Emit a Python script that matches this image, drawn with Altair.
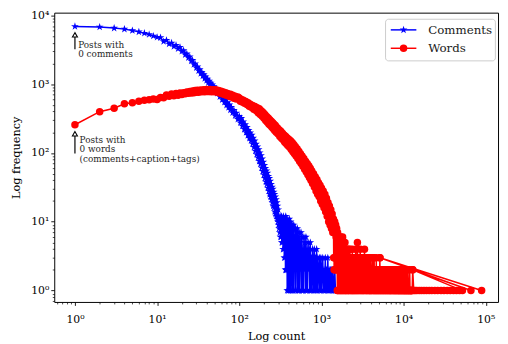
import altair as alt
import pandas as pd

FONT = "DejaVu Serif"
TITLE = "Log-Log plot over the frequency of text per post"
X_TITLE = "Log count"
Y_TITLE = "Log frequency"
SERIES = ["Comments", "Words"]
COLORS = ["#0000ff", "#ff0000"]
STAR = ("M0,-1L0.2245,-0.309L0.9511,-0.309L0.3633,0.118L0.5878,0.809L0,0.382"
        "L-0.5878,0.809L-0.3633,0.118L-0.9511,-0.309L-0.2245,-0.309Z")
SHAPES = [STAR, "circle"]
SIZES = [68, 58]

# ---- Comments: (number of comments + 1, number of posts), in plotted order ----
comments_head = [
    (1, 6900), (2, 6750), (3, 6520), (4, 6300), (5, 6000), (6, 5750), (7, 5500), (8, 5250), (9, 5000), (10, 4800),
    (11, 4740), (12, 4170), (13, 4340), (14, 3830), (15, 3970), (16, 3520), (17, 3680), (18, 3270), (19, 3430), (20, 3000),
    (21, 3070), (22, 2680), (23, 2760), (24, 2420), (25, 2500), (26, 2170), (27, 2220), (28, 1930), (29, 1980), (30, 1730),
    (31, 1790), (32, 1560), (33, 1630), (34, 1430), (35, 1490), (36, 1310), (37, 1380), (38, 1210), (39, 1280), (40, 1130),
    (41, 1190), (42, 1050), (43, 1110), (44, 985), (45, 1040), (46, 920), (47, 980), (48, 865), (49, 925), (50, 815),
    (52, 855), (54, 735), (56, 770), (58, 655), (60, 700), (62, 595), (64, 640), (66, 545), (68, 590), (70, 495),
    (72, 540), (74, 458), (76, 500), (78, 422), (80, 462), (83, 385), (86, 418), (89, 348), (92, 380), (96, 308),
    (100, 340), (103, 275), (106, 318), (109, 246), (112, 285), (115, 220), (118, 258), (121, 198), (124, 236), (127, 180),
    (130, 214), (133, 163), (136, 197), (139, 150), (142, 182), (145, 136), (148, 165), (151, 121), (154, 150), (157, 107),
    (160, 135), (163, 95), (166, 123), (169, 85), (172, 112), (175, 76), (178, 101), (181, 69), (184, 92), (187, 61),
    (190, 82), (193, 54), (196, 74), (199, 48), (202, 66), (205, 43), (208, 60), (211, 38), (214, 55), (217, 35),
    (220, 51), (223, 31), (226, 46), (229, 28), (232, 43), (235, 25), (238, 39), (241, 23), (244, 35), (247, 21),
    (250, 32), (253, 19), (256, 30), (259, 17), (262, 27), (265, 16), (268, 25), (271, 14), (274, 23), (277, 13),
    (280, 21), (283, 12), (286, 19), (289, 11), (292, 17), (295, 10), (298, 15), (300, 9),
]
comments_tail = [
    (302, 12), (305, 8), (308, 11), (311, 7), (314, 12), (317, 6), (320, 10), (323, 6), (326, 12), (329, 5),
    (332, 11), (335, 5), (338, 9), (341, 4), (344, 12), (347, 4), (350, 10), (353, 3), (356, 11), (359, 3),
    (362, 8), (365, 2), (368, 12), (371, 2), (374, 9), (377, 2), (380, 11), (383, 1), (386, 7), (389, 2),
    (392, 10), (395, 1), (398, 8), (402, 1), (406, 11), (410, 2), (414, 9), (418, 1), (422, 10), (426, 1),
    (430, 7), (435, 2), (440, 9), (445, 1), (450, 8), (455, 1), (460, 9), (466, 3), (472, 6), (478, 1),
    (484, 8), (490, 1), (496, 7), (502, 2), (508, 8), (515, 1), (522, 6), (529, 1), (536, 7), (543, 1),
    (550, 5), (557, 2), (564, 7), (572, 1), (580, 6), (588, 1), (596, 4), (604, 1), (612, 6), (621, 2),
    (630, 5), (639, 1), (648, 6), (658, 1), (668, 4), (678, 1), (688, 5), (699, 2), (710, 4), (721, 1),
    (732, 5), (744, 1), (756, 3), (768, 1), (780, 4), (793, 2), (806, 1), (819, 4), (832, 1), (846, 3),
    (860, 1), (874, 4), (889, 1), (904, 3), (920, 2), (936, 1), (952, 3), (968, 1), (985, 3), (1002, 1),
    (1020, 2), (1038, 3), (1056, 1), (1075, 2), (1094, 1), (1114, 3), (1134, 1), (1154, 2), (1175, 1), (1196, 3),
    (1218, 1), (1240, 2), (1262, 1), (1285, 2), (1308, 1), (1332, 2), (1356, 1), (1380, 2), (1405, 1), (1430, 1),
    (1455, 2), (1480, 1), (1500, 1),
]

# ---- Words: (number of words + 1, number of posts), in plotted order ----
words_head = [
    (1, 257), (2, 398), (3, 446), (4, 518), (5, 535), (6, 566), (7, 585), (8, 592), (9, 610), (10, 600),
    (11, 640), (12, 632), (13, 695), (14, 668), (15, 718), (16, 680), (17, 728), (18, 690), (19, 745), (20, 705),
    (21, 752), (22, 722), (23, 768), (24, 735), (25, 782), (26, 742), (27, 795), (28, 752), (29, 805), (30, 760),
    (31, 812), (32, 765), (34, 820), (35, 772), (37, 828), (38, 775), (40, 832), (42, 778), (44, 832), (46, 775),
    (48, 830), (50, 772), (52, 826), (54, 765), (56, 808), (58, 742), (60, 790), (62, 725), (64, 770), (66, 705),
    (68, 748), (70, 690), (72, 730), (75, 668), (78, 710), (80, 648), (83, 690), (86, 625), (89, 668), (92, 610),
    (96, 650), (100, 630), (103, 565), (106, 598), (109, 550), (112, 585), (116, 528), (120, 560), (124, 505), (128, 535),
    (132, 478), (136, 512), (140, 462), (145, 490), (150, 432), (155, 472), (160, 415), (165, 452), (170, 385), (175, 440),
    (180, 362), (185, 410), (190, 340), (195, 388), (200, 318), (205, 362), (210, 295), (215, 338), (220, 280), (225, 322),
    (230, 262), (235, 303), (240, 250), (245, 288), (250, 236), (255, 275), (260, 225), (265, 262), (270, 212), (275, 250),
    (282, 200), (290, 232), (297, 188), (305, 218), (312, 174), (320, 206), (327, 164), (335, 193), (342, 155), (350, 182),
    (357, 144), (365, 175), (372, 137), (380, 166), (390, 128), (400, 158), (410, 121), (420, 150), (430, 112), (440, 142),
    (450, 104), (460, 133), (470, 97), (480, 124), (492, 90), (505, 115), (517, 83), (530, 106), (542, 76), (555, 97),
    (567, 70), (580, 90), (595, 64), (610, 83), (625, 58), (640, 76), (655, 53), (670, 70), (685, 48), (700, 65),
    (715, 44), (730, 60), (745, 40), (760, 55), (780, 36), (800, 50), (820, 32), (840, 45), (860, 28), (880, 41),
    (900, 25), (920, 37), (940, 23), (960, 34), (980, 20), (1000, 31), (1025, 18), (1050, 28), (1075, 16), (1100, 25),
    (1125, 14), (1150, 22), (1175, 12), (1200, 19), (1225, 10), (1250, 17), (1275, 9), (1300, 15), (1325, 8), (1350, 13),
    (1375, 7), (1400, 11),
]
words_tail = [
    (1410, 3), (1418, 9), (1426, 2), (1434, 8), (1442, 3), (1450, 10), (1460, 2), (1470, 7), (1480, 3), (1490, 9),
    (1500, 2), (1510, 6), (1520, 3), (1530, 8), (1540, 2), (1550, 6), (1560, 1), (1572, 7), (1584, 1), (1596, 5),
    (1608, 2), (1620, 6), (1632, 1), (1645, 5), (1658, 2), (1671, 6), (1684, 1), (1697, 4), (1710, 1), (1724, 6),
    (1738, 2), (1752, 5), (1766, 1), (1780, 4), (1795, 1), (1810, 6), (1825, 2), (1840, 4), (1855, 1), (1870, 5),
    (1886, 1), (1902, 4), (1918, 2), (1934, 5), (1950, 1), (1967, 3), (1984, 1), (2001, 4), (2018, 1), (2036, 3),
    (2054, 2), (2072, 4), (2090, 1), (2109, 3), (2128, 1), (2147, 4), (2166, 1), (2186, 3), (2206, 2), (2226, 4),
    (2246, 1), (2267, 3), (2288, 1), (2309, 2), (2330, 3), (2352, 1), (2374, 4), (2396, 1), (2419, 3), (2442, 1),
    (2465, 2), (2488, 3), (2512, 1), (2536, 3), (2560, 1), (2585, 2), (2610, 4), (2635, 1), (2661, 3), (2687, 1),
    (2713, 2), (2740, 5), (2767, 1), (2794, 3), (2822, 1), (2850, 2), (2878, 3), (2907, 1), (2936, 2), (2965, 4),
    (2995, 1), (3025, 3), (3055, 1), (3086, 2), (3117, 3), (3148, 1), (3180, 2), (3212, 1), (3244, 3), (3277, 1),
    (3310, 2), (3343, 4), (3377, 1), (3411, 2), (3445, 3), (3480, 1), (3515, 2), (3550, 1), (3586, 3), (3622, 1),
    (3658, 2), (3695, 3), (3732, 1), (3770, 2), (3808, 1), (3846, 3), (3885, 1), (3924, 2), (3963, 1), (4003, 3),
    (4043, 1), (4084, 2), (4125, 1), (4166, 2), (4208, 3), (4250, 1), (4293, 2), (4336, 1), (4380, 3), (4424, 1),
    (4468, 2), (4513, 1), (4558, 2), (4604, 1), (4650, 3), (4697, 1), (4744, 2), (4792, 1), (4840, 2), (4888, 1),
    (4937, 2), (4987, 1), (5037, 2), (5087, 1), (5138, 3), (5190, 1), (5242, 2), (5294, 1), (5347, 2), (5401, 1),
    (5455, 2), (5510, 1), (5565, 2), (5621, 1), (5677, 2), (5734, 1), (5791, 2), (5849, 1), (5908, 2), (5967, 1),
    (6027, 2), (6087, 1), (6148, 2), (6210, 1), (6272, 2), (6335, 1), (6398, 2), (6462, 1), (6527, 2), (6592, 1),
    (6658, 2), (6725, 1), (6792, 2), (6860, 1), (6929, 1), (6998, 2), (7068, 1), (7139, 2), (7210, 1), (7282, 2),
    (7355, 1), (7429, 2), (7503, 1), (7578, 2), (7654, 1), (7731, 1), (7808, 2), (7886, 1), (7965, 2), (8045, 1),
    (8125, 1), (8206, 2), (8288, 1), (8371, 2), (8455, 1), (8540, 1), (8625, 2), (8711, 1), (8798, 1), (8886, 2),
    (8975, 1), (9065, 1), (9156, 2), (9248, 1), (9340, 1), (9433, 2), (9527, 1), (9622, 1), (9718, 2), (9815, 1),
    (9913, 1), (10012, 2), (10112, 1), (10213, 1), (10315, 1), (10418, 2), (10522, 1), (10627, 1), (10733, 1), (10840, 2),
    (10948, 1), (11057, 1), (11168, 1), (11280, 2), (11393, 1), (11507, 1), (11622, 1), (11738, 1), (11855, 2), (11974, 1),
    (12094, 1), (12215, 1), (12337, 1), (12460, 1), (12585, 1), (12711, 1), (12900, 2), (13300, 1), (13800, 1), (14500, 1),
    (15500, 1), (16500, 1), (17700, 1), (19000, 1), (20500, 1), (22000, 1), (24000, 1), (26000, 1), (28500, 1), (31000, 1),
    (34000, 1), (37000, 1), (40500, 1), (44000, 1), (48000, 1), (52000, 1), (12900, 2), (66000, 1), (5160, 3), (89000, 1),
]

# ---- axes ----
x_major = [1, 10, 100, 1000, 10000, 100000]
x_major_labels = ["10⁰", "10¹", "10²", "10³", "10⁴", "10⁵"]
y_major = [1, 10, 100, 1000, 10000]
y_major_labels = ["10⁰", "10¹", "10²", "10³", "10⁴"]
X_DOMAIN = [0.56, 141000]
Y_DOMAIN = [0.683, 10930]

# ---- annotations ----
ann_text = ["Posts with", "0 comments", "Posts with", "0 words", "(comments+caption+tags)"]
ann_x = [1.095, 1.095, 1.138, 1.138, 1.138]
ann_y = [3340, 2460, 140, 102, 74.8]
arrow_x = [1, 1]
arrow_tail = [3200, 98]
arrow_tip = [5200, 190]


def tick_values(lo, hi):
    vals = []
    for k in range(-1, 6):
        for m in range(1, 10):
            v = round(m * 10.0 ** k, 6)
            if lo <= v <= hi:
                vals.append(v)
    return vals


def label_expr(vals, labels):
    return " : ".join(f"datum.value == {v} ? '{l}'" for v, l in zip(vals, labels)) + " : ''"


def major_test(vals):
    return " || ".join(f"datum.value == {v}" for v in vals)


def make_axis(vals, majors, labels, title, **kw):
    test = major_test(majors)
    return alt.Axis(
        values=vals, labelExpr=label_expr(majors, labels),
        tickSize={"condition": {"test": test, "value": 3.5}, "value": 2},
        tickWidth={"condition": {"test": test, "value": 0.9}, "value": 0.7},
        tickColor="black", domain=False, grid=False,
        labelFont=FONT, labelFontSize=11, labelColor="black",
        labelOverlap=False, labelFlush=False, labelBound=False,
        title=title, titleFont=FONT, titleFontSize=11.5, titleFontWeight="normal",
        titleColor="black", **kw)


xscale = alt.Scale(type="log", domain=X_DOMAIN, nice=False)
yscale = alt.Scale(type="log", domain=Y_DOMAIN, nice=False)
xaxis = make_axis(tick_values(*X_DOMAIN), x_major, x_major_labels, X_TITLE, labelPadding=8, titlePadding=7)
yaxis = make_axis(tick_values(*Y_DOMAIN), y_major, y_major_labels, Y_TITLE, labelPadding=2, titlePadding=9)

X = alt.X("count:Q", scale=xscale, axis=xaxis)
Y = alt.Y("freq:Q", scale=yscale, axis=yaxis)

layers = []
for name, color, shape, size, pts in zip(SERIES, COLORS, SHAPES, SIZES,
                                          [comments_head + comments_tail, words_head + words_tail]):
    df = pd.DataFrame(pts, columns=["count", "freq"])
    df["idx"] = range(len(df))
    df["series"] = name
    layers.append(alt.Chart(df).mark_line(color=color, strokeWidth=1.5).encode(
        x=X, y=Y, order=alt.Order("idx:Q")))
    layers.append(alt.Chart(df).mark_point(shape=shape, filled=True, color=color, size=size, opacity=1).encode(
        x=X, y=Y))

ann_df = pd.DataFrame({"label": ann_text, "count": ann_x, "freq": ann_y})
layers.append(alt.Chart(ann_df).mark_text(align="left", baseline="alphabetic", font=FONT, fontSize=9,
                                          color="#262626").encode(x=X, y=Y, text="label:N"))
arr_df = pd.DataFrame({"count": arrow_x, "freq": arrow_tail, "freq2": arrow_tip})
layers.append(alt.Chart(arr_df).mark_rule(color="black", strokeWidth=1.2).encode(x=X, y=Y, y2="freq2:Q"))
head_df = pd.DataFrame({"count": arrow_x, "freq": arrow_tip})
layers.append(alt.Chart(head_df).mark_point(shape="triangle-up", filled=True, fill="white", stroke="black",
                                            strokeWidth=1.1, size=26, opacity=1).encode(x=X, y=Y))

# ---- legend (box in the upper right) ----
one = pd.DataFrame({"a": [0]})
layers.append(alt.Chart(one).mark_rect(fill="white", fillOpacity=0.85, stroke="#cccccc", strokeWidth=1,
                                       cornerRadius=3).encode(
    x=alt.value(336.7), x2=alt.value(448.3), y=alt.value(6.7), y2=alt.value(49)))
for i, (name, color, shape, size) in enumerate(zip(SERIES, COLORS, SHAPES, SIZES)):
    yy = 17.5 + i * 18.7
    layers.append(alt.Chart(one).mark_rule(color=color, strokeWidth=1.5).encode(
        x=alt.value(342), x2=alt.value(368), y=alt.value(yy)))
    layers.append(alt.Chart(one).mark_point(shape=shape, filled=True, color=color, size=size, opacity=1).encode(
        x=alt.value(355), y=alt.value(yy)))
    layers.append(alt.Chart(one).mark_text(align="left", baseline="middle", font=FONT, fontSize=12,
                                           color="#1a1a1a", text=name).encode(
        x=alt.value(380), y=alt.value(yy)))

chart = alt.layer(*layers).properties(
    width=451, height=294,
    autosize=alt.AutoSizeParams(type="none"),
    padding={"left": 47, "top": 2, "right": 2, "bottom": 40},
    title=alt.TitleParams(TITLE, font=FONT, fontSize=12, fontWeight="normal", color="black", offset=4),
).configure_view(stroke="black", strokeWidth=1)

chart.save("out.html", embed_options={"renderer": "svg", "actions": False})
